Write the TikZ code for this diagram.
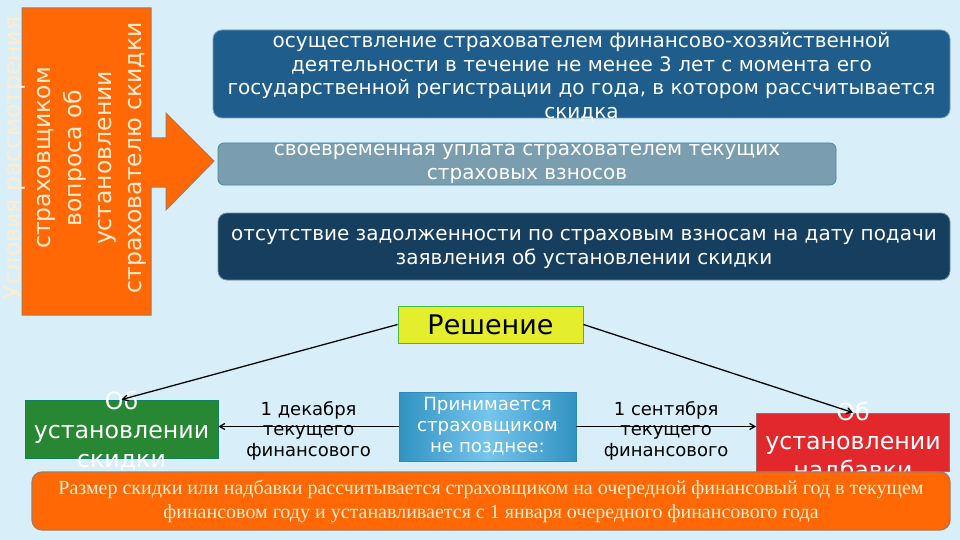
\documentclass[tikz,border=0pt]{standalone}
\usepackage{fontspec}
\setmainfont{DejaVu Sans}
\newfontfamily\serifru{Liberation Serif}
\usepackage{xcolor}
\usetikzlibrary{arrows,positioning}

\definecolor{bgblue}{RGB}{216,239,249}
\definecolor{orng}{RGB}{255,104,4}
\definecolor{boxone}{RGB}{31,94,140}
\definecolor{boxtwo}{RGB}{122,157,176}
\definecolor{boxthree}{RGB}{22,62,94}
\definecolor{yell}{RGB}{228,238,44}
\definecolor{grn}{RGB}{40,135,50}
\definecolor{lblue}{RGB}{58,172,228}
\definecolor{rd}{RGB}{226,40,44}
\definecolor{cream}{RGB}{255,236,205}

\begin{document}
\begin{tikzpicture}[
    x=1pt, y=-1pt,
    cond/.style={rectangle, rounded corners=9pt, inner sep=0pt, line width=0.8pt},
    condtext/.style={align=center, text=white, font=\fontsize{20}{23.5}\selectfont},
    result/.style={rectangle, inner sep=0pt, minimum width=193pt, minimum height=58pt, line width=0.8pt},
    resulttext/.style={align=center, text=white, font=\fontsize{23.7}{29}\selectfont},
    datetext/.style={align=center, font=\fontsize{18}{20.5}\selectfont},
    arrow/.style={->, >=angle 60, line width=1.3pt}
]
    \useasboundingbox (0,0) rectangle (960,540);
    \fill[bgblue] (0,0) rectangle (960,540);

    % left arrow with conditions
    \draw[fill=orng, draw=gray!60!orng, line width=1pt] (22,8) -- (151,8) -- (151,138) -- (166,138) -- (166,113) -- (214,161)
        -- (166,210) -- (166,187) -- (151,187) -- (151,315) -- (22,315) -- cycle;
    \node[rotate=90, align=center, text=cream, font=\fontsize{23.5}{30.2}\selectfont] (cond) at (75,158)
        {Условия рассмотрения\\страховщиком\\вопроса об\\установлении\\страхователю скидки};

    % conditions
    \node[cond, fill=boxone, draw=boxone!60!white, minimum width=737pt, minimum height=88pt] (c1) at (581.5,74) {};
    \node[condtext] (c1t) at (581.5,77) {осуществление страхователем финансово-хозяйственной\\деятельности в течение не менее 3 лет с момента его\\государственной регистрации до года, в котором рассчитывается\\скидка};
    \node[cond, rounded corners=6pt, fill=boxtwo, draw=teal!50!boxtwo, minimum width=618pt, minimum height=42pt] (c2) at (527,164) {};
    \node[condtext] (c2t) at (527,164) {своевременная уплата страхователем текущих\\страховых взносов};
    \node[cond, fill=boxthree, draw=boxthree!60!white, minimum width=732pt, minimum height=67pt] (c3) at (584,246.5) {};
    \node[condtext] (c3t) at (584,249) {отсутствие задолженности по страховым взносам на дату подачи\\заявления об установлении скидки};

    % decision
    \node[rectangle, fill=yell, draw=green!45!gray, line width=1pt, minimum width=185pt, minimum height=37pt, font=\fontsize{27}{30}\selectfont] (res) at (490.5,324.5) {Решение};
    \node[rectangle, left color=lblue!85!black, right color=lblue!85!black, middle color=lblue!70!white, draw=lblue!80!black, minimum width=177pt, minimum height=69pt, inner sep=0pt,
        align=center, text=white, font=\fontsize{18.2}{21}\selectfont] (when) at (487.5,426.5) {Принимается\\страховщиком\\не позднее:};

    \node[result, fill=grn, draw=teal!60!grn] (disc) at (121.5,429) {};
    \node[resulttext] (disct) at (121.5,431) {Об\\установлении\\скидки};
    \node[result, fill=rd, draw=gray!70!rd] (extra) at (853,442) {};
    \node[resulttext] (extrat) at (853,442) {Об\\установлении\\надбавки};

    \draw[arrow] (res.west) -- (disc.north);
    \draw[arrow] (res.east) -- (extra.north);
    \draw[arrow] (when.west) -- node[datetext, yshift=-4pt] (dec) {1 декабря\\текущего\\финансового} (disc.east |- when.west);
    \draw[arrow] (when.east) -- node[datetext, yshift=-4pt] (sep) {1 сентября\\текущего\\финансового} (extra.west |- when.east);

    % size of discount
    \node[rectangle, rounded corners=10pt, fill=orng, draw=gray!70!orng, line width=1.2pt, minimum width=918pt, minimum height=58pt,
        align=center, text=cream, font=\serifru\fontsize{20}{24}\selectfont] (size) at (491,501)
        {Размер скидки или надбавки рассчитывается страховщиком на очередной финансовый год в текущем\\финансовом году и устанавливается с 1 января очередного финансового года};
\end{tikzpicture}
\end{document}
